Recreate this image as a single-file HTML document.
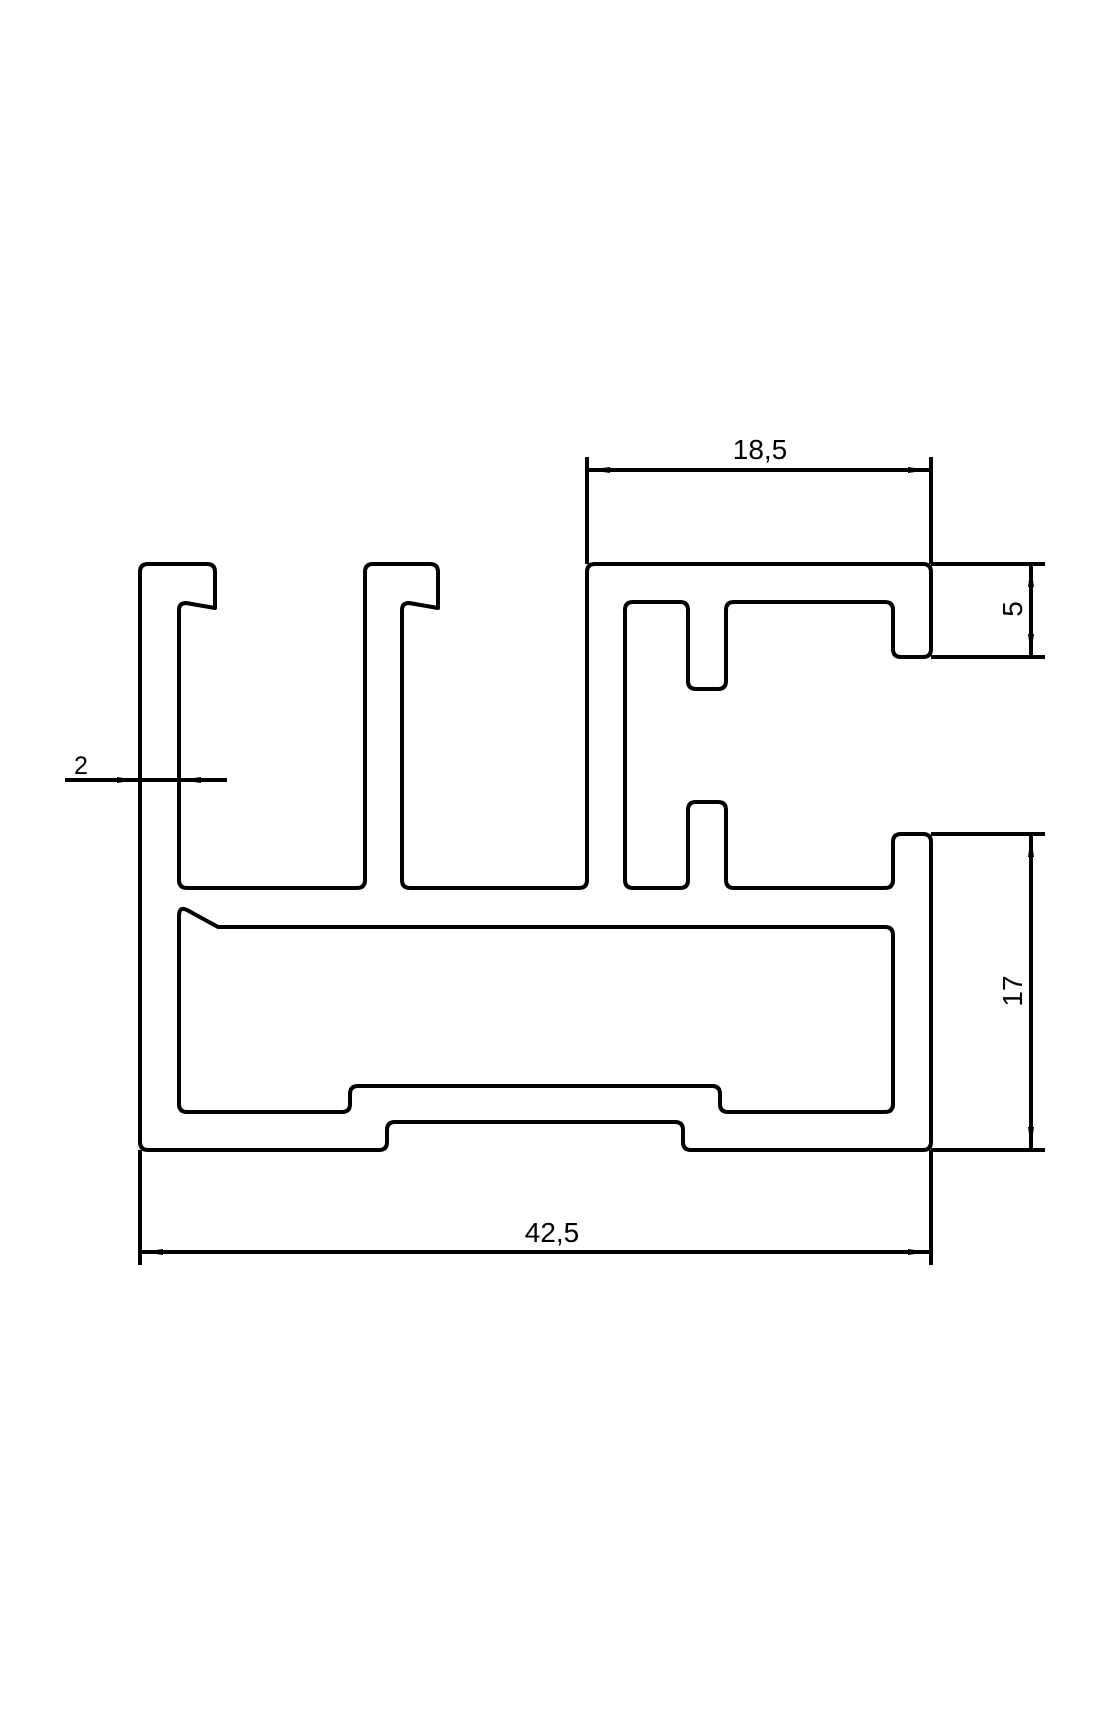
<!DOCTYPE html>
<html><head><style>html,body{margin:0;padding:0;background:#fff}svg{display:block}</style></head>
<body>
<svg width="1115" height="1723" viewBox="0 0 1115 1723" xmlns="http://www.w3.org/2000/svg">
<rect width="1115" height="1723" fill="#fff"/>
<g fill="none" stroke="#000" stroke-width="4" stroke-linejoin="round">
<!-- outer profile -->
<path d="M140,1142 L140,572 Q140,564 148,564 L207,564 Q215,564 215,572 L215,608 L186,603 Q179,603 179,610 L179,880 Q179,888 187,888 L357,888 Q365,888 365,880 L365,572 Q365,564 373,564 L430,564 Q438,564 438,572 L438,608 L409,603 Q402,603 402,610 L402,880 Q402,888 410,888 L579,888 Q587,888 587,880 L587,572 Q587,564 595,564 L923,564 Q931,564 931,572 L931,649 Q931,657 923,657 L901,657 Q893,657 893,649 L893,610 Q893,602 885,602 L734,602 Q726,602 726,610 L726,681 Q726,689 718,689 L696,689 Q688,689 688,681 L688,610 Q688,602 680,602 L633,602 Q625,602 625,610 L625,880 Q625,888 633,888 L680,888 Q688,888 688,880 L688,810 Q688,802 696,802 L718,802 Q726,802 726,810 L726,880 Q726,888 734,888 L885,888 Q893,888 893,880 L893,842 Q893,834 901,834 L923,834 Q931,834 931,842 L931,1142 Q931,1150 923,1150 L691,1150 Q683,1150 683,1142 L683,1130 Q683,1122 675,1122 L395,1122 Q387,1122 387,1130 L387,1142 Q387,1150 379,1150 L148,1150 Q140,1150 140,1142 Z"/>
<!-- lower cavity -->
<path d="M179,1104 L179,916 Q179,906 187,910 L218,927 L885,927 Q893,927 893,935 L893,1104 Q893,1112 885,1112 L728,1112 Q720,1112 720,1104 L720,1094 Q720,1086 712,1086 L358,1086 Q350,1086 350,1094 L350,1104 Q350,1112 342,1112 L187,1112 Q179,1112 179,1104 Z"/>
</g>
<g stroke="#000" stroke-width="4" fill="none">
<!-- extension lines -->
<line x1="140" y1="1150" x2="140" y2="1265"/>
<line x1="931" y1="1150" x2="931" y2="1265"/>
<line x1="587" y1="564" x2="587" y2="457"/>
<line x1="931" y1="564" x2="931" y2="457"/>
<line x1="931" y1="564" x2="1045" y2="564"/>
<line x1="931" y1="657" x2="1045" y2="657"/>
<line x1="931" y1="834" x2="1045" y2="834"/>
<line x1="931" y1="1150" x2="1045" y2="1150"/>
<!-- dim lines -->
<line x1="587" y1="470" x2="931" y2="470"/>
<line x1="140" y1="1252" x2="931" y2="1252"/>
<line x1="1031" y1="564" x2="1031" y2="657"/>
<line x1="1031" y1="834" x2="1031" y2="1150"/>
<line x1="65" y1="780" x2="227" y2="780"/>
</g>
<g fill="#000">
<polygon points="589,470 610,467 610,473"/>
<polygon points="929,470 908,467 908,473"/>
<polygon points="142,1252 163,1249 163,1255"/>
<polygon points="929,1252 908,1249 908,1255"/>
<polygon points="1031,566 1028,587 1034,587"/>
<polygon points="1031,655 1028,634 1034,634"/>
<polygon points="1031,836 1028,857 1034,857"/>
<polygon points="1031,1148 1028,1127 1034,1127"/>
<polygon points="138,780 117,777 117,783"/>
<polygon points="180,780 201,777 201,783"/>
</g>
<g font-family="'Liberation Sans', sans-serif" fill="#000">
<text x="760" y="459" font-size="28" text-anchor="middle">18,5</text>
<text x="552" y="1242" font-size="28" text-anchor="middle">42,5</text>
<text x="81" y="774" font-size="25" text-anchor="middle">2</text>
<text transform="translate(1022,609) rotate(-90)" font-size="28" text-anchor="middle">5</text>
<text transform="translate(1022,991) rotate(-90)" font-size="28" text-anchor="middle">17</text>
</g>
</svg>
</body></html>
